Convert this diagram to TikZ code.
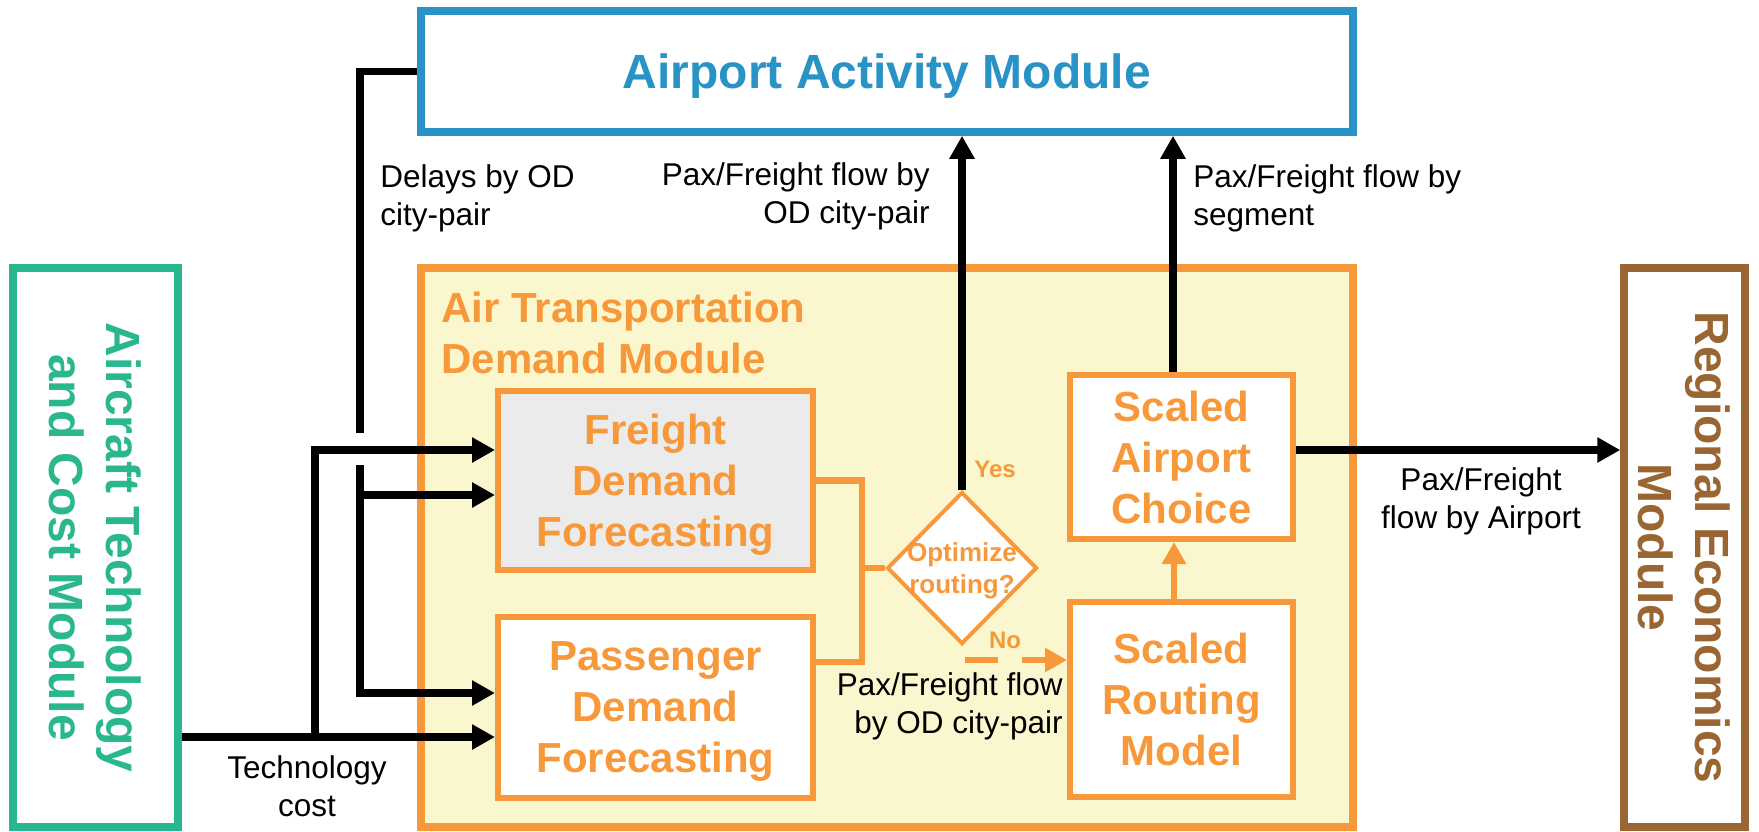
\documentclass[tikz,border=0pt]{standalone}
\usepackage{fontspec}
\setmainfont{Liberation Sans}
\usetikzlibrary{arrows.meta,shapes.geometric,calc}
\definecolor{cblue}{RGB}{42,147,197}
\definecolor{cgreen}{RGB}{43,183,141}
\definecolor{cbrown}{RGB}{153,102,51}
\definecolor{corange}{RGB}{247,153,58}
\definecolor{cyellow}{RGB}{250,247,206}
\definecolor{cgray}{RGB}{235,235,235}
\begin{document}
\begin{tikzpicture}[x=0.5pt,y=-0.5pt,
  bigbox/.style={draw, line width=3.75pt, inner sep=0pt},
  modtitle/.style={font=\fontsize{24}{28.5}\selectfont\bfseries, align=center, text depth=0pt, inner sep=0pt},
  innerbox/.style={draw=corange, line width=3pt, inner sep=0pt, text depth=0pt, align=center,
    font=\fontsize{21}{25.5}\selectfont\bfseries, text=corange},
  blk/.style={line width=3.75pt, black},
  blkarr/.style={blk, -{Triangle[width=12pt,length=11.5pt]}},
  orl/.style={corange, line width=3.25pt},
  orarr/.style={orl, -{Triangle[width=11.5pt,length=11pt]}},
  lbl/.style={inner sep=0pt, font=\fontsize{15.75}{19}\selectfont},
  yn/.style={inner sep=0pt, text=corange, font=\fontsize{12}{14}\selectfont\bfseries}
]
\useasboundingbox (0,0) rectangle (1759,831);

% module boxes
\node[bigbox, draw=cblue, minimum width=466pt, minimum height=60.5pt, text=cblue,
  font=\fontsize{24}{28.5}\selectfont\bfseries, text depth=0pt] (airport) at (887,71.5) {Airport Activity Module};
\node[bigbox, draw=corange, fill=cyellow, minimum width=466pt, minimum height=279.5pt] (atdm) at (887,547.5) {};
\node[anchor=north west, text=corange, font=\fontsize{21}{25.5}\selectfont\bfseries, align=left, inner sep=0pt]
  (atdmt) at (441,292) {Air Transportation\\Demand Module};
\node[bigbox, draw=cgreen, minimum width=82.5pt, minimum height=279.5pt] (green) at (95.5,547.5) {};
\node[modtitle, rotate=-90, text=cgreen] (greent) at (green.center) {Aircraft Technology\\and Cost Module};
\node[bigbox, draw=cbrown, minimum width=60.5pt, minimum height=279.5pt] (regional) at (1684.5,547.5) {};
\node[modtitle, rotate=-90, text=cbrown] (regionalt) at (regional.center) {Regional Economics\\Module};

% inner boxes
\node[innerbox, fill=cgray, minimum width=157.5pt, minimum height=89.5pt] (freight) at (655.5,480.5) {Freight\\Demand\\Forecasting};
\node[innerbox, fill=white, minimum width=157.5pt, minimum height=90.5pt] (passenger) at (655.5,707.5) {Passenger\\Demand\\Forecasting};
\node[innerbox, fill=white, minimum width=111.5pt, minimum height=82pt] (choice) at (1181.5,457) {Scaled\\Airport\\Choice};
\node[innerbox, fill=white, minimum width=111.5pt, minimum height=97.5pt] (routing) at (1181.5,699.5) {Scaled\\Routing\\Model};

% decision
\node[diamond, draw=corange, fill=white, line width=2pt, minimum width=75pt, minimum height=76pt, inner sep=0pt] (opt) at (962,568) {};
\node[text=corange, font=\fontsize{13}{16}\selectfont\bfseries, align=center, text depth=0pt, inner sep=0pt] (optt) at (opt.center) {Optimize\\routing?};

% delays connector
\coordinate (d1) at (360,71.5);
\coordinate (d2) at (360,433);
\coordinate (d3) at (360,465);
\coordinate (d4) at (360,693);
\coordinate (d5) at (360,495);
\draw[blk] (airport.west) -- (d1) -- (d2);
\draw[blkarr] (d3) -- (d4) -- (d4 -| passenger.west);
\draw[blkarr] (d5) -- (d5 -| freight.west);

% technology cost connector
\coordinate (t0) at ($(green.east)+(0,189.5)$);
\coordinate (t1) at (315,737);
\coordinate (t2) at (315,450);
\draw[blkarr] (t0) -- (t0 -| passenger.west);
\draw[blkarr] (t1) -- (t2) -- (t2 -| freight.west);

% upward and rightward flows
\draw[blkarr] (opt.north) -- (opt.north |- airport.south);
\coordinate (c1) at ($(choice.north)+(-8.5,0)$);
\draw[blkarr] (c1) -- (c1 |- airport.south);
\coordinate (c2) at ($(choice.east)+(0,-7)$);
\draw[blkarr] (c2) -- (c2 -| regional.west);

% orange connectors
\coordinate (b1) at (862,480.5);
\coordinate (b2) at (862,662);
\coordinate (bm) at (862,568);
\draw[orl] (freight.east) -- (b1) -- (b2) -- (b2 -| passenger.east);
\draw[orl] (bm) -- (opt.west);
\coordinate (n1) at ($(routing.west)+(0,-39.5)$);
\draw[orarr, dash pattern=on 16.5pt off 12pt, dash phase=20pt] (opt.south) |- (n1);
\coordinate (r1) at ($(routing.north)+(-7.5,0)$);
\draw[orarr] (r1) -- (r1 |- choice.south);

% labels
\node[lbl, anchor=north west, align=left] (ldelay) at (380,164) {Delays by OD\\city-pair};
\node[lbl, anchor=north east, align=right] (lodflow) at (930,162) {Pax/Freight flow by\\OD city-pair};
\node[lbl, anchor=north west, align=left] (lseg) at (1193,164) {Pax/Freight flow by\\segment};
\node[lbl, anchor=north, align=center] (ltech) at (307,755) {Technology\\cost};
\node[lbl, anchor=north, align=center] (lair) at (1481,467) {Pax/Freight\\flow by Airport};
\node[lbl, anchor=north east, align=right] (lod2) at (1063,672) {Pax/Freight flow\\by OD city-pair};
\node[yn] (yes) at (995,469) {Yes};
\node[yn] (no) at (1005,640) {No};
\end{tikzpicture}
\end{document}
